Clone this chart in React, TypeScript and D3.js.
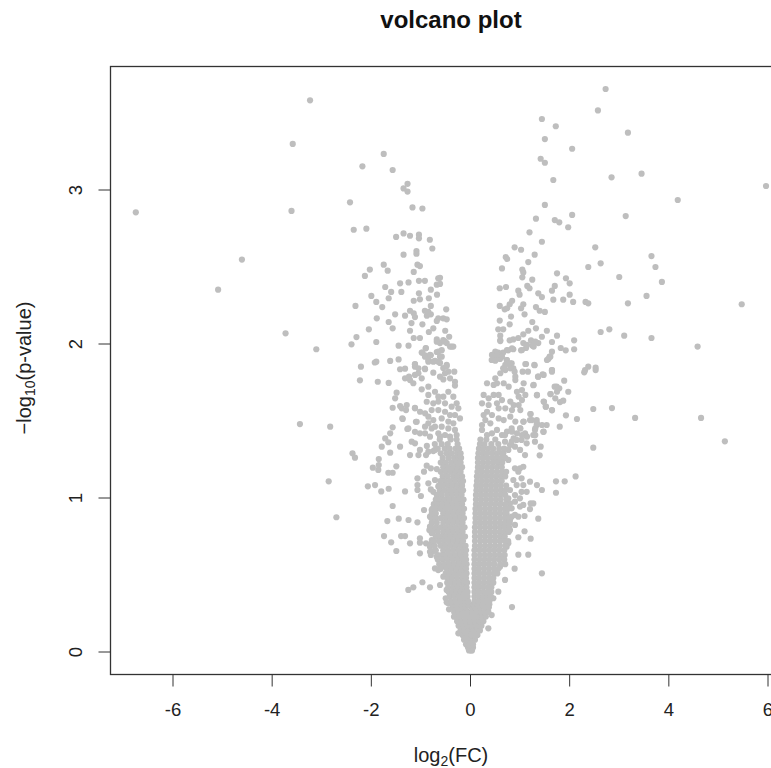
import React from "react";
import * as d3 from "d3";

const chart = {
  width: 771,
  height: 768,
  boxLeft: 110.5,
  boxRight: 792,
  boxTop: 66.5,
  boxBottom: 674.5,
  dot: 3.1,
  tick: 12,
  font: 20,
  tickFont: 18.5,
};

const xTicks = [-6, -4, -2, 0, 2, 4, 6];
const yTicks = [0, 1, 2, 3];

// [log2FC, -log10 p], sparse part of the left arm
const leftPoints: [number, number][] = [
  [-3.236,3.582],[-3.585,3.299],[-1.75,3.234],[-2.18,3.154],[-1.57,3.13],[-1.27,3.04],[-1.35,3.01],[-1.27,2.99],
  [-2.43,2.92],[-1.17,2.887],[-0.97,2.88],[-6.75,2.855],[-3.61,2.864],[-2.355,2.742],[-2.1,2.749],[-1.5,2.695],
  [-1.35,2.718],[-1.22,2.703],[-1.04,2.71],[-1.04,2.686],[-0.82,2.677],[-0.77,2.62],[-1.35,2.58],[-1.09,2.604],
  [-1.09,2.586],[-4.61,2.548],[-1.75,2.515],[-2.03,2.483],[-1.67,2.476],[-2.13,2.442],[-1.07,2.515],[-1.02,2.506],
  [-1.145,2.468],[-1.04,2.41],[-0.92,2.41],[-1.25,2.4],[-1.42,2.394],[-1.72,2.37],[-1.6,2.338],[-1.395,2.338],
  [-5.09,2.353],[-0.65,2.427],[-0.68,2.385],[-0.8,2.353],[-1.04,2.329],[-0.675,2.32],[-2,2.312],[-1.65,2.297],
  [-1.145,2.281],[-1.02,2.29],[-0.84,2.297],[-1.9,2.273],[-1.78,2.24],[-2.32,2.247],[-0.8,2.247],[-1.22,2.216],
  [-1.145,2.199],[-0.92,2.216],[-0.85,2.208],[-0.88,2.184],[-0.8,2.193],[-1.52,2.193],[-1.32,2.184],[-1.12,2.175],
  [-1.89,2.167],[-1.65,2.143],[-1.19,2.136],[-0.97,2.128],[-0.65,2.167],[-0.68,2.15],[-1.57,2.102],[-2.05,2.095],
  [-1.22,2.086],[-0.75,2.102],[-0.84,2.078],[-3.73,2.069],[-2.3,2.045],[-1.145,2.039],[-1.02,2.039],[-0.68,2.03],
  [-1.9,2.013],[-2.4,1.998],[-1.45,1.989],[-1.25,1.989],[-0.9,1.974],[-3.11,1.966],[-0.97,1.944],[-0.92,1.927],
  [-0.8,1.927],[-0.68,1.948],[-0.85,1.885],[-0.715,1.89],[-1.62,1.89],[-1.45,1.9],[-1.9,1.885],[-1.93,1.88],
  [-2.21,1.853],[-1.12,1.868],[-1.12,1.853],[-1.32,1.84],[-1.42,1.836],[-0.92,1.84],
  [-0.615,2.43],[-0.615,2.39],[-0.49,2.225],[-0.55,2.167],[-0.48,2.16],[-0.51,2.086],[-0.43,2.047],[-0.55,2.026],
  [-0.615,2.006],[-0.38,1.983],[-0.48,2.006],[-0.58,1.96],[-0.58,1.918],[-0.615,1.877],[-0.48,1.864],[-0.55,1.844],
  [-2.23,1.764],[-1.87,1.755],[-1.65,1.747],[-3.44,1.48],[-2.83,1.463],[-2.38,1.29],[-2.33,1.262],[-2.86,1.108],
  [-2.705,0.875],[-1.49,1.684],[-1.52,1.647],[-1.57,1.586],[-1.42,1.597],[-1.286,1.604],[-1.3,1.571],[-1.12,1.586],
  [-1.367,1.513],[-1.1,1.495],[-1.57,1.459],[-1.62,1.42],[-1.72,1.387],[-1.657,1.362],[-1.79,1.333],[-1.62,1.294],
  [-1.42,1.333],[-1.274,1.448],[-1.12,1.43],[-1.02,1.42],[-0.817,1.398],[-1.186,1.366],[-1.12,1.355],[-1.22,1.279],
  [-1.05,1.279],[-0.897,1.279],[-1.02,1.312],[-0.88,1.338],[-0.75,1.305],[-1.85,1.253],[-1.97,1.197],[-1.86,1.182],
  [-1.85,1.214],[-1.496,1.206],[-1.657,1.164],[-1.57,1.164],[-0.883,1.21],[-0.938,1.171],[-0.8,1.193],[-0.68,1.188],
  [-2.07,1.076],[-1.925,1.084],[-1.8,1.043],[-1.65,1.06],[-1.32,1.043],[-1.07,1.128],[-1.07,1.084],[-1.07,1.052],
  [-1,1.013],[-0.85,1.095],[-0.8,1.056],[-0.75,1.04],[-1.57,0.948],[-0.937,0.922],[-1.677,0.85],[-1.447,0.866],
  [-1.25,0.857],[-1.07,0.842],[-1.744,0.753],[-1.4,0.753],[-1.32,0.753],[-1.6,0.712],[-1.22,0.706],[-1.496,0.656],
  [-1.02,0.738],[-1.02,0.71],[-0.897,0.706],[-0.78,0.727],[-0.817,0.684],[-1.02,0.641],[-0.817,0.651],[-0.75,0.656],
  [-0.8,0.63],[-0.817,0.814],[-0.78,0.771],[-0.75,0.792],[-0.716,0.543],[-0.65,0.532],[-0.97,0.453],[-0.817,0.42],
  [-0.615,0.435],[-1.153,0.42],[-1.254,0.403],[-0.5,0.349],[-0.48,0.323],[-0.433,0.277],
  [-1.32,1.777],[-1.22,1.766],[-1.153,1.745],[-1.24,1.788],[-1.12,1.799],[-1.05,1.81],[-0.984,1.777],[-1.12,1.87],
  [-1.05,1.842],[-0.917,1.836],[-0.903,1.972],[-0.984,1.944],[-0.917,1.918],[-0.85,1.896],[-0.817,1.929],[-0.75,1.885],
  [-0.65,1.95],[-0.615,1.918],[-0.65,1.885],[-0.68,2.015],[-0.514,2.015],[-0.413,1.983],[-0.347,1.983],[-0.75,1.814],
  [-0.48,1.857],[-0.447,1.82],[-0.514,1.81],[-0.327,1.82],[-0.548,1.77],[-0.413,1.777],[-0.313,1.755],[-0.313,1.73],
  [-0.615,1.788],[-0.984,1.706],[-0.85,1.723],[-0.85,1.669],[-0.716,1.69],[-0.883,1.625],[-1.387,1.582],[-1.12,1.582],
  [-1.375,1.517],[-1.085,1.495],[-1.254,1.452],[-0.917,1.42],
  [-1.018,1.56],[-0.917,1.55],[-0.85,1.528],[-0.783,1.571],[-0.75,1.615],[-0.649,1.626],[-0.548,1.658],[-0.447,1.69],
  [-0.346,1.658],[-0.279,1.615],[-0.245,1.582],[-0.212,1.517],[-0.649,1.658],[-0.514,1.615],[-0.38,1.593],[-0.514,1.56],
  [-0.413,1.539],[-0.313,1.539],[-0.649,1.571],[-0.581,1.517],[-0.447,1.496],[-0.346,1.485],[-0.75,1.506],[-0.85,1.485],
  [-0.716,1.463],[-0.581,1.463],[-0.447,1.452],[-0.313,1.442],[-0.279,1.409],[-0.649,1.42],[-0.514,1.409],[-0.413,1.398],
  [-0.716,1.117],[-0.649,1.074],[-0.783,0.922],[-0.817,0.879],[-0.83,0.792],[-0.783,0.706],[-0.682,0.619],[-0.581,0.554],
  [-0.548,0.489],[-0.481,0.403],[-0.447,0.316],[-0.333,0.229],[-0.245,0.121],[-0.85,1.301],[-0.716,1.312],[-0.615,1.398],
  [-0.783,1.452],[-0.917,1.463],
];

// same for the right arm
const rightPoints: [number, number][] = [
  [2.725,3.656],[2.57,3.517],[1.44,3.461],[1.72,3.414],[1.5,3.331],[3.175,3.372],[2.05,3.268],[1.415,3.203],
  [1.5,3.177],[1.67,3.065],[2.845,3.082],[3.45,3.106],[5.96,3.026],[4.18,2.935],[1.5,2.903],[2.05,2.838],
  [1.32,2.814],[1.7,2.805],[1.79,2.79],[1.97,2.758],[3.13,2.831],[1.19,2.725],[1.44,2.664],[0.89,2.628],
  [1.02,2.612],[2.516,2.628],[1.294,2.58],[0.71,2.565],[0.74,2.552],[3.65,2.571],[1.165,2.532],[2.625,2.524],
  [2.375,2.5],[3.73,2.5],[0.635,2.491],[1.045,2.483],[1.065,2.465],[1.045,2.433],[1.745,2.459],[3,2.435],
  [1.925,2.427],[2,2.394],[1.246,2.418],[3.86,2.403],[0.59,2.362],[0.716,2.37],[1.145,2.377],[1.19,2.362],
  [1.7,2.377],[1.643,2.346],[0.964,2.346],[0.99,2.32],[1.367,2.329],[1.44,2.305],[2,2.32],[3.55,2.312],
  [1.67,2.288],[1.87,2.288],[2.07,2.273],[2.32,2.273],[2.375,2.264],[3.175,2.264],[0.84,2.281],[0.79,2.258],
  [0.74,2.232],[0.59,2.247],[0.69,2.225],[1.065,2.258],[1.02,2.232],[1.32,2.24],[1.395,2.216],[1.5,2.208],
  [5.47,2.258],[0.817,2.178],[1.09,2.193],[0.59,2.152],[0.79,2.128],[1.246,2.143],[1.32,2.102],[0.56,2.095],
  [0.66,2.095],[1.165,2.086],[1.065,2.063],[0.964,2.039],[1.54,2.086],[2.625,2.078],[2.8,2.095],[3.1,2.054],
  [3.65,2.039],[1.745,2.054],[1.44,2.047],[0.6,2.054],[0.6,2.024],[0.79,2.024],[0.863,2.03],[1.22,2.024],
  [1.065,2.006],[1.367,2.006],[1.246,1.99],[1.12,1.974],[1.02,1.959],[1.643,2.013],[2.09,2.024],[2.09,1.966],
  [1.82,1.974],[1.92,1.959],[4.58,1.983],[1.643,1.95],[1.596,1.918],[1.57,1.903],[0.863,1.966],[0.76,1.959],
  [0.66,1.944],[0.56,1.944],[0.494,1.918],[0.427,1.896],[0.595,1.903],[0.73,1.896],[0.83,1.875],[0.66,1.842],
  [0.863,1.842],[1.12,1.87],[1.294,1.862],[1.643,1.83],[2.375,1.853],[2.524,1.846],[2.31,1.83],
  [0.837,0.292],[1.44,0.511],[0.89,0.541],[0.965,0.632],[1.165,0.632],[1.213,0.736],[0.965,0.745],[1.09,0.784],
  [1.367,0.866],[1.09,0.883],[0.897,0.825],[0.796,0.857],[1.213,0.965],[1.266,0.965],[1.2,0.928],[1.065,0.955],
  [0.998,0.998],[1.03,1.04],[0.897,0.89],[0.83,0.933],[0.897,0.976],[1.133,1.04],[1.2,1.106],[1.03,1.128],
  [1.065,1.084],[1.34,1.084],[1.44,1.052],[1.724,1.108],[1.9,1.108],[1.724,1.034],[2.12,1.14],[0.897,1.193],
  [0.998,1.193],[1.065,1.203],[0.964,1.171],[1.395,1.277],[1.415,1.333],[1.1,1.279],[1,1.312],[0.897,1.333],
  [0.796,1.344],[1.03,1.377],[1.133,1.355],[1.3,1.366],[1.1,1.42],[1,1.453],[0.93,1.377],[0.83,1.366],
  [2.476,1.327],[1.266,1.409],[1.3,1.442],[1.335,1.474],[1.468,1.43],[1.536,1.474],[1.8,1.463],[1.065,1.495],
  [1.2,1.506],[1.335,1.506],[1.213,1.545],[1.482,1.625],[1.516,1.593],[1.643,1.569],[1.925,1.537],[2.147,1.513],
  [2.476,1.578],[2.853,1.584],[3.32,1.52],[4.65,1.52],[5.13,1.368],[1.34,1.667],[1.266,1.732],[1.617,1.675],
  [1.805,1.623],[1.87,1.632],[1.972,1.69],[1.738,1.723],[1.79,1.712],[1.89,1.762],[1.367,1.788],[1.476,1.799],
  [1.643,1.82],[2.294,1.816],[2.524,1.831],
  [0.601,2.019],[0.837,1.972],[0.736,1.961],[1.038,1.961],[1.139,1.994],[1.274,1.983],[1.307,2.015],[1.61,1.918],
  [1.542,1.896],[0.5,1.95],[0.433,1.929],[0.534,1.929],[0.5,1.892],[0.635,1.918],[0.736,1.896],[0.702,1.864],
  [0.803,1.874],[0.803,1.842],[0.89,1.82],[0.904,1.788],[0.702,1.831],[0.601,1.81],[0.669,1.842],[1.106,1.87],
  [1.287,1.864],[1.052,1.82],[1.159,1.82],[1.361,1.788],[1.455,1.803],[1.643,1.831],[0.333,1.745],[0.5,1.777],
  [0.467,1.734],[0.534,1.745],[0.669,1.745],[0.77,1.723],[0.904,1.766],[1.072,1.745],[1.038,1.701],[0.937,1.69],
  [1.274,1.734],[1.697,1.723],[0.265,1.669],[0.366,1.647],[0.467,1.669],[0.568,1.669],[0.232,1.615],[0.366,1.604],
  [0.534,1.615],[0.971,1.658],[1.106,1.669],[1.341,1.669],[1.61,1.675],[1.744,1.69],[1.475,1.626],[1.522,1.593],
  [1.643,1.571],[1.71,1.647],[0.803,1.626],[0.87,1.604],[0.971,1.604],[1.038,1.636],[1.005,1.571],[0.837,1.571],
  [0.702,1.582],[0.568,1.582],[0.635,1.636],[0.333,1.56],[0.433,1.539],[0.299,1.506],[0.4,1.485],[0.568,1.517],
  [0.669,1.506],[0.803,1.528],[0.904,1.496],[1.206,1.545],[1.072,1.496],[1.24,1.506],[1.341,1.485],[1.442,1.474],
  [1.475,1.431],[1.307,1.452],[1.005,1.452],[1.139,1.398],[1.307,1.409],[1.038,1.409],[0.937,1.42],[0.87,1.387],
  [0.232,1.442],[0.333,1.409],[0.433,1.42],[0.534,1.442],[0.635,1.409],[0.736,1.431],[0.837,1.431],[0.265,1.539],
  [0.232,1.474],
  [0.864,1.117],[0.931,1.084],[0.796,1.052],[0.897,1.019],[0.998,0.944],[0.796,0.965],[0.763,0.998],[0.729,0.9],
  [0.83,0.879],[0.964,0.879],[0.662,0.814],[0.796,0.792],[0.628,0.749],[0.729,0.684],[0.662,0.619],[0.763,0.706],
  [0.595,0.554],[0.696,0.468],[0.561,0.392],[0.461,0.349],[0.427,0.24],[0.36,0.154],[0.763,1.247],[0.662,1.29],
  [0.763,1.312],[0.696,1.409],[0.83,1.452],[0.696,1.366],
];

// dense part: first number of a row is -log10 p, the rest are log2FC readings along that row
const baseRows: number[][] = [
  [0.01,-0.03,0.01,0.03],[0.03,-0.05,0.02,0.05],[0.05,-0.09,-0.02,0.05],[0.08,-0.13,-0.05,0.03,0.09],
  [0.11,-0.16,-0.07,0.02,0.1,0.14],[0.14,-0.2,-0.12,-0.04,0.05,0.13,0.19],[0.17,-0.24,-0.15,-0.06,0.04,0.12,0.22],
  [0.2,-0.27,-0.18,-0.09,0,0.09,0.18,0.26],[0.23,-0.3,-0.21,-0.12,-0.03,0.06,0.15,0.24,0.31],
  [0.26,-0.33,-0.24,-0.15,-0.06,0.03,0.12,0.21,0.3,0.36],[0.29,-0.35,-0.27,-0.18,-0.09,0.02,0.1,0.19,0.28,0.37],
  [0.31,-0.37,-0.29,-0.2,-0.12,-0.05,0.06,0.14,0.23,0.32,0.38],
];

const leftRows: number[][] = [
  [1.38,-0.62,-0.4,-0.28],[1.35,-0.72,-0.58,-0.46,-0.26],[1.32,-0.66,-0.52,-0.42,-0.3,-0.23],
  [1.29,-0.6,-0.48,-0.38,-0.27,-0.2],[1.26,-0.56,-0.44,-0.33,-0.24,-0.19],[1.23,-0.6,-0.5,-0.39,-0.29,-0.2],
  [1.2,-0.55,-0.45,-0.34,-0.25,-0.17],[1.17,-0.6,-0.5,-0.4,-0.3,-0.2],[1.14,-0.56,-0.46,-0.35,-0.26,-0.17],
  [1.11,-0.61,-0.51,-0.41,-0.31,-0.21,-0.15],[1.08,-0.64,-0.55,-0.45,-0.36,-0.26,-0.17],
  [1.05,-0.62,-0.52,-0.42,-0.32,-0.22,-0.15],[1.02,-0.68,-0.58,-0.47,-0.37,-0.27,-0.18],
  [0.99,-0.7,-0.62,-0.52,-0.42,-0.32,-0.22,-0.14],[0.96,-0.74,-0.66,-0.56,-0.46,-0.36,-0.26,-0.17],
  [0.93,-0.77,-0.69,-0.6,-0.5,-0.4,-0.3,-0.21,-0.13],[0.9,-0.78,-0.7,-0.55,-0.45,-0.35,-0.25,-0.16],
  [0.87,-0.79,-0.7,-0.6,-0.5,-0.4,-0.3,-0.2,-0.13],[0.84,-0.78,-0.68,-0.55,-0.45,-0.35,-0.25,-0.16],
  [0.81,-0.8,-0.7,-0.6,-0.5,-0.4,-0.3,-0.2,-0.12],[0.78,-0.77,-0.66,-0.55,-0.45,-0.35,-0.25,-0.16],
  [0.75,-0.7,-0.6,-0.5,-0.4,-0.3,-0.2,-0.11],[0.72,-0.74,-0.64,-0.54,-0.44,-0.34,-0.24,-0.15],
  [0.69,-0.72,-0.6,-0.5,-0.4,-0.3,-0.2,-0.1],[0.66,-0.7,-0.55,-0.45,-0.35,-0.25,-0.15,-0.09],
  [0.63,-0.66,-0.58,-0.5,-0.4,-0.3,-0.2,-0.1],[0.6,-0.66,-0.56,-0.46,-0.36,-0.26,-0.16,-0.09],
  [0.57,-0.63,-0.52,-0.42,-0.32,-0.22,-0.12,-0.08],[0.54,-0.6,-0.48,-0.38,-0.28,-0.18,-0.09],
  [0.51,-0.5,-0.42,-0.32,-0.22,-0.13,-0.08],[0.48,-0.46,-0.37,-0.27,-0.17,-0.09],
  [0.45,-0.47,-0.4,-0.31,-0.22,-0.13,-0.07],[0.42,-0.45,-0.35,-0.26,-0.16,-0.08],
  [0.39,-0.44,-0.37,-0.28,-0.2,-0.11,-0.06],[0.36,-0.42,-0.32,-0.23,-0.14,-0.06],[0.33,-0.39,-0.3,-0.2,-0.11,-0.05],
];

const rightRows: number[][] = [
  [1.38,0.2,0.32,0.5],[1.35,0.19,0.28,0.42,0.56],[1.32,0.17,0.26,0.36,0.46,0.58,0.68],
  [1.29,0.16,0.26,0.34,0.44,0.54,0.64],[1.26,0.15,0.24,0.34,0.44,0.52,0.62,0.7],[1.23,0.15,0.25,0.35,0.45,0.55,0.64],
  [1.2,0.15,0.23,0.33,0.43,0.53,0.63],[1.17,0.14,0.24,0.34,0.44,0.54,0.64,0.72],[1.14,0.13,0.22,0.32,0.42,0.52,0.62,0.7],
  [1.11,0.13,0.23,0.33,0.43,0.53,0.63],[1.08,0.12,0.21,0.31,0.41,0.51,0.61,0.72],[1.05,0.12,0.22,0.32,0.42,0.52,0.62,0.7],
  [1.02,0.11,0.2,0.3,0.4,0.5,0.6,0.7],[0.99,0.11,0.21,0.31,0.41,0.51,0.61,0.73],[0.96,0.11,0.2,0.3,0.4,0.5,0.6,0.7],
  [0.93,0.1,0.19,0.29,0.39,0.49,0.59,0.69,0.76],[0.9,0.1,0.2,0.3,0.4,0.5,0.6,0.7],
  [0.87,0.1,0.19,0.29,0.39,0.49,0.59,0.69,0.78],[0.84,0.1,0.2,0.3,0.4,0.5,0.6,0.7,0.79],
  [0.81,0.09,0.19,0.29,0.39,0.49,0.59,0.69,0.78],[0.78,0.09,0.2,0.3,0.4,0.5,0.6,0.7,0.77],
  [0.75,0.09,0.19,0.29,0.39,0.49,0.59,0.69],[0.72,0.09,0.2,0.3,0.4,0.5,0.6,0.7,0.76],
  [0.69,0.09,0.19,0.29,0.39,0.49,0.59,0.7],[0.66,0.08,0.18,0.28,0.38,0.48,0.58,0.68],
  [0.63,0.08,0.19,0.29,0.39,0.49,0.59,0.69],[0.6,0.08,0.18,0.28,0.38,0.48,0.58,0.68],
  [0.57,0.08,0.18,0.28,0.38,0.48,0.6,0.7],[0.54,0.08,0.17,0.27,0.37,0.47,0.56],[0.51,0.08,0.18,0.28,0.38,0.48,0.54],
  [0.48,0.08,0.17,0.27,0.37,0.46],[0.45,0.08,0.18,0.28,0.38,0.46],[0.42,0.08,0.17,0.26,0.36,0.42],
  [0.39,0.08,0.16,0.26,0.35,0.42],[0.36,0.08,0.17,0.26,0.34,0.41],[0.33,0.08,0.16,0.25,0.33,0.38],
];

const rowsToPoints = (rows: number[][]): [number, number][] =>
  rows.flatMap((row) => row.slice(1).map((fc): [number, number] => [fc, row[0]]));

const points = [
  ...leftPoints,
  ...rightPoints,
  ...rowsToPoints(baseRows),
  ...rowsToPoints(leftRows),
  ...rowsToPoints(rightRows),
];

export default function App() {
  const x = d3.scaleLinear().domain([-6, 6]).range([173, 768]);
  const y = d3.scaleLinear().domain([0, 3]).range([652, 190]);
  const ink = "#222";

  return (
    <svg
      width={chart.width}
      height={chart.height}
      style={{ position: "absolute", left: 0, top: 0, background: "#fff" }}
      fontFamily="'Liberation Sans', Arial, sans-serif"
    >
      <text x={451} y={27.5} textAnchor="middle" fontSize={24} fontWeight="bold" fill="#111">
        volcano plot
      </text>

      {points.map((d, i) => (
        <circle key={i} cx={x(d[0])} cy={y(d[1])} r={chart.dot} fill="#BEBEBE" />
      ))}

      <rect
        x={chart.boxLeft}
        y={chart.boxTop}
        width={chart.boxRight - chart.boxLeft}
        height={chart.boxBottom - chart.boxTop}
        fill="none"
        stroke="#333"
        strokeWidth={1.3}
      />

      {xTicks.map((t) => (
        <g key={t}>
          <line x1={x(t)} x2={x(t)} y1={chart.boxBottom} y2={chart.boxBottom + chart.tick} stroke="#333" />
          <text x={x(t)} y={716} textAnchor="middle" fontSize={chart.tickFont} fill={ink}>
            {t}
          </text>
        </g>
      ))}
      {yTicks.map((t) => (
        <g key={t}>
          <line x1={chart.boxLeft} x2={chart.boxLeft - chart.tick} y1={y(t)} y2={y(t)} stroke="#333" />
          <text
            transform={`translate(82,${y(t)}) rotate(-90)`}
            textAnchor="middle"
            fontSize={chart.tickFont}
            fill={ink}
          >
            {t}
          </text>
        </g>
      ))}

      <text x={451} y={762} textAnchor="middle" fontSize={chart.font} fill={ink}>
        log<tspan fontSize={14} dy={4}>2</tspan>
        <tspan dy={-4}>(FC)</tspan>
      </text>
      <text
        transform="translate(31,368) rotate(-90)"
        textAnchor="middle"
        fontSize={chart.font}
        fill={ink}
      >
        −log<tspan fontSize={14} dy={4}>10</tspan>
        <tspan dy={-4}>(p-value)</tspan>
      </text>
    </svg>
  );
}
